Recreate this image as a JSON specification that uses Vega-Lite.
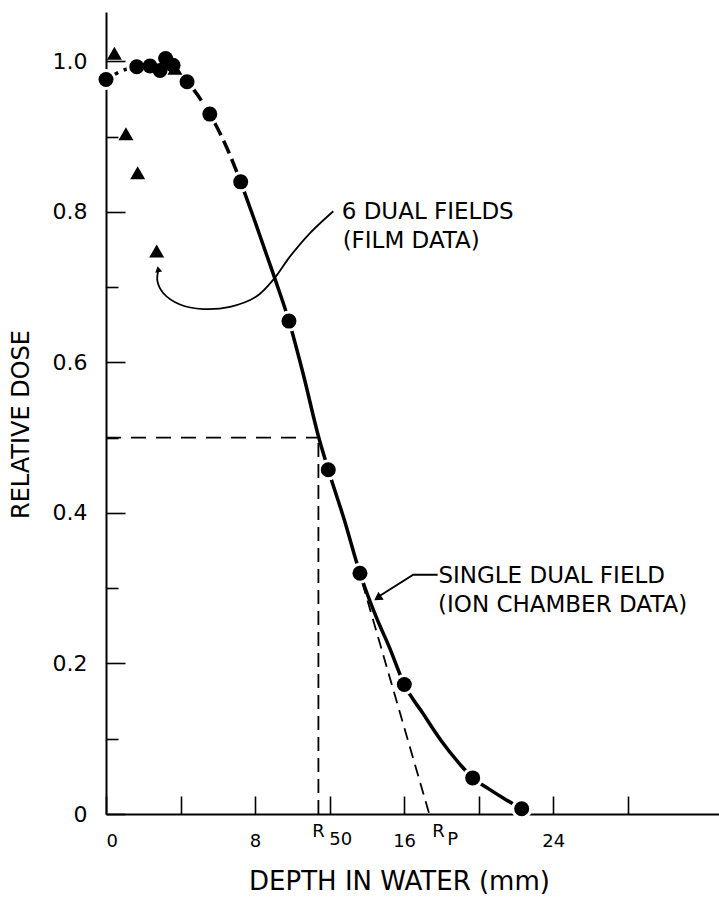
{
  "$schema": "https://vega.github.io/schema/vega-lite/v6.json",
  "width": 613,
  "height": 802,
  "autosize": "none",
  "padding": {"left": 106, "top": 12, "right": 0, "bottom": 83},
  "background": "white",
  "config": {
    "view": {"stroke": null},
    "font": "DejaVu Sans",
    "axis": {
      "domainColor": "black",
      "domainWidth": 2,
      "tickColor": "black",
      "tickWidth": 1.6,
      "labelColor": "black",
      "titleColor": "black",
      "labelFont": "DejaVu Sans",
      "titleFont": "DejaVu Sans",
      "titleFontWeight": "normal",
      "grid": false,
      "zindex": 1
    }
  },
  "datasets": {
    "ion": [
      {"depth": 0, "dose": 0.976},
      {"depth": 1.65, "dose": 0.993},
      {"depth": 2.36, "dose": 0.994},
      {"depth": 2.9, "dose": 0.988},
      {"depth": 3.2, "dose": 1.004},
      {"depth": 3.6, "dose": 0.995},
      {"depth": 4.35, "dose": 0.973},
      {"depth": 5.57, "dose": 0.93},
      {"depth": 7.23, "dose": 0.84},
      {"depth": 9.82, "dose": 0.655},
      {"depth": 11.93, "dose": 0.4575},
      {"depth": 13.63, "dose": 0.32},
      {"depth": 16.01, "dose": 0.172},
      {"depth": 19.68, "dose": 0.048},
      {"depth": 22.31, "dose": 0.007}
    ],
    "film": [
      {"depth": 0.45, "dose": 1.011},
      {"depth": 1.07, "dose": 0.904},
      {"depth": 1.7, "dose": 0.852},
      {"depth": 2.72, "dose": 0.748},
      {"depth": 3.7, "dose": 0.991}
    ],
    "fitTop": [
      {"depth": 0, "dose": 0.976},
      {"depth": 0.8, "dose": 0.987},
      {"depth": 1.65, "dose": 0.994},
      {"depth": 2.5, "dose": 0.997},
      {"depth": 3.3, "dose": 0.994},
      {"depth": 4.35, "dose": 0.973},
      {"depth": 5.57, "dose": 0.93},
      {"depth": 6.4, "dose": 0.89},
      {"depth": 7.23, "dose": 0.84}
    ],
    "fitLow": [
      {"depth": 7.23, "dose": 0.84},
      {"depth": 8, "dose": 0.787},
      {"depth": 9, "dose": 0.716},
      {"depth": 9.82, "dose": 0.655},
      {"depth": 10.6, "dose": 0.583},
      {"depth": 11.4, "dose": 0.502},
      {"depth": 11.93, "dose": 0.4575},
      {"depth": 12.8, "dose": 0.39},
      {"depth": 13.63, "dose": 0.32},
      {"depth": 14.5, "dose": 0.262},
      {"depth": 15.2, "dose": 0.222},
      {"depth": 16.01, "dose": 0.172},
      {"depth": 17, "dose": 0.134},
      {"depth": 18, "dose": 0.097},
      {"depth": 19, "dose": 0.066},
      {"depth": 19.68, "dose": 0.048},
      {"depth": 20.5, "dose": 0.034},
      {"depth": 21.4, "dose": 0.02},
      {"depth": 22.31, "dose": 0.007}
    ],
    "tangent": [
      {"depth": 13.75, "dose": 0.308},
      {"depth": 17.35, "dose": 0}
    ],
    "r50h": [{"depth": 0, "depth2": 11.4, "dose": 0.5}],
    "r50v": [{"depth": 11.4, "dose": 0, "dose2": 0.5}],
    "filmArrow": [
      {"k": 0, "depth": 2.8, "dose": 0.722},
      {"k": 1, "depth": 2.76, "dose": 0.708},
      {"k": 2, "depth": 3.08, "dose": 0.692},
      {"k": 3, "depth": 3.97, "dose": 0.677},
      {"k": 4, "depth": 5.22, "dose": 0.671},
      {"k": 5, "depth": 6.66, "dose": 0.674},
      {"k": 6, "depth": 8.09, "dose": 0.688},
      {"k": 7, "depth": 8.98, "dose": 0.71},
      {"k": 8, "depth": 9.88, "dose": 0.741},
      {"k": 9, "depth": 10.95, "dose": 0.772},
      {"k": 10, "depth": 12.2, "dose": 0.801}
    ],
    "filmHead": [{"depth": 2.8, "dose": 0.724}],
    "ionArrow": [
      {"k": 0, "depth": 17.8, "dose": 0.318},
      {"k": 1, "depth": 16.49, "dose": 0.318},
      {"k": 2, "depth": 14.7, "dose": 0.29}
    ],
    "ionHead": [{"depth": 14.58, "dose": 0.287}],
    "notes": [
      {"depth": 12.65, "dose": 0.79, "text": "6 DUAL FIELDS"},
      {"depth": 12.7, "dose": 0.752, "text": "(FILM DATA)"},
      {"depth": 17.84, "dose": 0.307, "text": "SINGLE DUAL FIELD"},
      {"depth": 17.82, "dose": 0.269, "text": "(ION CHAMBER DATA)"}
    ],
    "rBig": [
      {"depth": 11.4, "text": "R"},
      {"depth": 17.84, "text": "R"}
    ],
    "rSub": [
      {"depth": 12.6, "text": "50"},
      {"depth": 18.6, "text": "P"}
    ]
  },
  "layer": [
    {
      "data": {"name": "fitTop"},
      "mark": {"type": "line", "interpolate": "monotone", "color": "black", "strokeWidth": 3.5, "strokeDash": [14, 6]},
      "encoding": {
        "x": {
          "field": "depth", "type": "quantitative",
          "scale": {"domain": [0, 32.9], "nice": false},
          "axis": {
            "values": [0, 4, 8, 12, 16, 20, 24, 28],
            "labelExpr": "datum.value % 8 == 0 ? datum.label : ''",
            "tickSize": -18,
            "labelPadding": 36,
            "labelFontSize": 18,
            "labelBaseline": "top",
            "title": "DEPTH IN WATER (mm)",
            "titleFontSize": 26,
            "titleX": 293,
            "titleY": 75,
            "titleBaseline": "alphabetic",
            "titleAnchor": "middle",
            "titleAlign": "center"
          }
        },
        "y": {
          "field": "dose", "type": "quantitative",
          "scale": {"domain": [0, 1.0657], "nice": false},
          "axis": {
            "values": [0, 0.1, 0.2, 0.3, 0.4, 0.5, 0.6, 0.7, 0.8, 0.9, 1.0],
            "labelExpr": "datum.value == 0 ? '0' : (round(datum.value * 10) % 2 == 0 ? format(datum.value, '.1f') : '')",
            "tickSize": {"condition": {"test": "round(datum.value * 10) % 2 == 0", "value": -19}, "value": -12},
            "labelPadding": 38,
            "labelFontSize": 22,
            "title": "RELATIVE DOSE",
            "titleFontSize": 24,
            "titleAngle": -90,
            "titleX": -85,
            "titleY": 412,
            "titleAlign": "center",
            "titleBaseline": "middle"
          }
        }
      }
    },
    {
      "data": {"name": "fitLow"},
      "mark": {"type": "line", "interpolate": "monotone", "color": "black", "strokeWidth": 3.5},
      "encoding": {
        "x": {"field": "depth", "type": "quantitative"},
        "y": {"field": "dose", "type": "quantitative"}
      }
    },
    {
      "data": {"name": "tangent"},
      "mark": {"type": "line", "color": "black", "strokeWidth": 1.8, "strokeDash": [12, 7]},
      "encoding": {
        "x": {"field": "depth", "type": "quantitative"},
        "y": {"field": "dose", "type": "quantitative"}
      }
    },
    {
      "data": {"name": "ion"},
      "mark": {"type": "point", "shape": "circle", "filled": true, "color": "white", "opacity": 1, "size": 441},
      "encoding": {
        "x": {"field": "depth", "type": "quantitative"},
        "y": {"field": "dose", "type": "quantitative"}
      }
    },
    {
      "data": {"name": "ion"},
      "mark": {"type": "point", "shape": "circle", "filled": true, "color": "black", "opacity": 1, "size": 225},
      "encoding": {
        "x": {"field": "depth", "type": "quantitative"},
        "y": {"field": "dose", "type": "quantitative"}
      }
    },
    {
      "data": {"name": "r50h"},
      "mark": {"type": "rule", "color": "black", "strokeWidth": 1.8, "strokeDash": [15, 10]},
      "encoding": {
        "x": {"field": "depth", "type": "quantitative"},
        "x2": {"field": "depth2"},
        "y": {"field": "dose", "type": "quantitative"}
      }
    },
    {
      "data": {"name": "r50v"},
      "mark": {"type": "rule", "color": "black", "strokeWidth": 1.8, "strokeDash": [14, 7]},
      "encoding": {
        "x": {"field": "depth", "type": "quantitative"},
        "y": {"field": "dose", "type": "quantitative"},
        "y2": {"field": "dose2"}
      }
    },
    {
      "data": {"name": "film"},
      "mark": {"type": "point", "shape": "triangle-up", "filled": true, "color": "black", "opacity": 1, "size": 225},
      "encoding": {
        "x": {"field": "depth", "type": "quantitative"},
        "y": {"field": "dose", "type": "quantitative"}
      }
    },
    {
      "data": {"name": "filmArrow"},
      "mark": {"type": "line", "interpolate": "catmull-rom", "color": "black", "strokeWidth": 1.8},
      "encoding": {
        "x": {"field": "depth", "type": "quantitative"},
        "y": {"field": "dose", "type": "quantitative"},
        "order": {"field": "k", "type": "quantitative"}
      }
    },
    {
      "data": {"name": "filmHead"},
      "mark": {"type": "point", "shape": "triangle-up", "filled": true, "color": "black", "opacity": 1, "size": 50, "angle": 350},
      "encoding": {
        "x": {"field": "depth", "type": "quantitative"},
        "y": {"field": "dose", "type": "quantitative"}
      }
    },
    {
      "data": {"name": "ionArrow"},
      "mark": {"type": "line", "color": "black", "strokeWidth": 2},
      "encoding": {
        "x": {"field": "depth", "type": "quantitative"},
        "y": {"field": "dose", "type": "quantitative"},
        "order": {"field": "k", "type": "quantitative"}
      }
    },
    {
      "data": {"name": "ionHead"},
      "mark": {"type": "point", "shape": "triangle-up", "filled": true, "color": "black", "opacity": 1, "size": 90, "angle": 236},
      "encoding": {
        "x": {"field": "depth", "type": "quantitative"},
        "y": {"field": "dose", "type": "quantitative"}
      }
    },
    {
      "data": {"name": "notes"},
      "mark": {"type": "text", "align": "left", "baseline": "alphabetic", "fontSize": 23, "font": "DejaVu Sans", "color": "black"},
      "encoding": {
        "x": {"field": "depth", "type": "quantitative"},
        "y": {"field": "dose", "type": "quantitative"},
        "text": {"field": "text"}
      }
    },
    {
      "data": {"name": "rBig"},
      "mark": {"type": "text", "align": "center", "baseline": "alphabetic", "fontSize": 18, "font": "DejaVu Sans", "color": "black", "dy": 22.5},
      "encoding": {
        "x": {"field": "depth", "type": "quantitative"},
        "y": {"datum": 0, "type": "quantitative"},
        "text": {"field": "text"}
      }
    },
    {
      "data": {"name": "rSub"},
      "mark": {"type": "text", "align": "center", "baseline": "alphabetic", "fontSize": 18, "font": "DejaVu Sans", "color": "black", "dy": 31},
      "encoding": {
        "x": {"field": "depth", "type": "quantitative"},
        "y": {"datum": 0, "type": "quantitative"},
        "text": {"field": "text"}
      }
    }
  ]
}
